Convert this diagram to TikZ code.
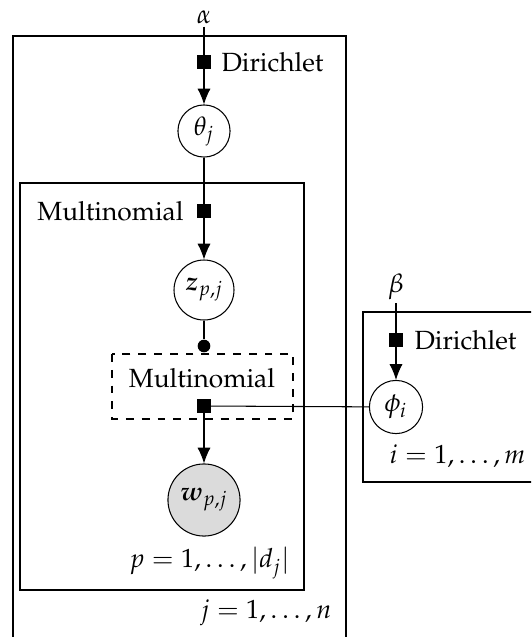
\documentclass[tikz,border=0pt]{standalone}
\usepackage{amsmath}
\usepackage[T1]{fontenc}
\usepackage{mathpazo}
\usepackage{tikz}
\usetikzlibrary{arrows.meta}

\begin{document}
\begin{tikzpicture}[
      x=0.38pt, y=-0.38pt,
      latent/.style={circle, draw, inner sep=0pt, minimum size=#1},
      obs/.style={latent=#1, fill=black!14},
      fac/.style={rectangle, fill=black, inner sep=0pt, minimum size=5pt},
      dotfac/.style={circle, fill=black, inner sep=0pt, minimum size=4.8pt},
      lbl/.style={inner sep=0pt},
      arr/.style={-{Latex[length=6pt,width=5pt]}}
    ]
      \clip (0,0) rectangle (531,637);
      % plates
      \draw (13,36) rectangle (346,700);
      \draw (20,183) rectangle (304,590);
      \draw (363,312) rectangle (560,482);
      \draw[dashed] (112,354) rectangle (293,419);
      % variables
      \node[lbl, inner sep=1pt] (alpha) at (204,17) {$\alpha$};
      \node[lbl, inner sep=1pt] (beta) at (396,287) {$\beta$};
      \node[latent=19.8pt] (theta) at (204,131) {$\theta_j$};
      \node[latent=22.8pt] (z) at (204,290) {$\boldsymbol{z}_{p,j}$};
      \node[obs=27.4pt] (w) at (204,500) {$\boldsymbol{w}_{p,j}$};
      \node[latent=20.2pt] (phi) at (396,407) {$\phi_i$};
      % factors
      \node[fac] (fdir) at (204,62) {};
      \node[fac] (fmul) at (204,211) {};
      \node[dotfac] (fsel) at (204,346) {};
      \node[fac] (fword) at (204,406) {};
      \node[fac] (fdirb) at (396,340) {};
      % labels
      \node[lbl, anchor=west] (ldir) at (221,62) {Dirichlet};
      \node[lbl, anchor=east] (lmul) at (184,211) {Multinomial};
      \node[lbl] (lword) at (202,378) {Multinomial};
      \node[lbl, anchor=west] (ldirb) at (414,340) {Dirichlet};
      \node[lbl, anchor=east] (lp) at (290,563) {$p=1,\ldots,|d_j|$};
      \node[lbl, anchor=east] (lj) at (332,613) {$j=1,\ldots,n$};
      \node[lbl, anchor=east] (li) at (526,456) {$i=1,\ldots,m$};
      % edges
      \draw (alpha) -- (fdir);
      \draw[arr] (fdir) -- (theta);
      \draw (theta) -- (fmul);
      \draw[arr] (fmul) -- (z);
      \draw (z) -- (fsel);
      \draw[arr] (fword) -- (w);
      \draw (beta) -- (fdirb);
      \draw[arr] (fdirb) -- (phi);
      \draw (fword) -- (phi);
    \end{tikzpicture}
\end{document}
